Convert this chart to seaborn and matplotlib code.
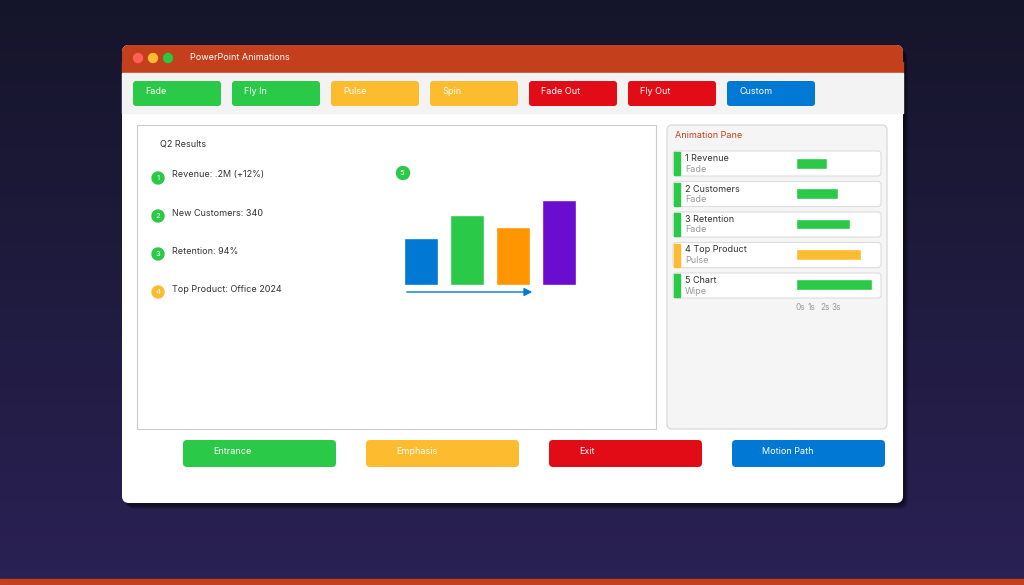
import numpy as np
import matplotlib.pyplot as plt
import seaborn as sns
from matplotlib.patches import FancyBboxPatch, Circle, Rectangle
from matplotlib.colors import LinearSegmentedColormap

sns.set_style("white")
plt.rcParams["font.family"] = ["Inter", "DejaVu Sans"]

# ---------------------------------------------------------------------------
# Data
# ---------------------------------------------------------------------------
effect_names = ["Fade", "Fly In", "Pulse", "Spin", "Fade Out", "Fly Out", "Custom"]
effect_kinds = ["entrance", "entrance", "emphasis", "emphasis", "exit", "exit", "path"]
group_names = ["Entrance", "Emphasis", "Exit", "Motion Path"]
group_kinds = ["entrance", "emphasis", "exit", "path"]
slide_items = ["Revenue: .2M (+12%)", "New Customers: 340", "Retention: 94%", "Top Product: Office 2024"]
item_kinds = ["entrance", "entrance", "entrance", "emphasis"]
chart_values = [47, 70, 58, 85]
chart_colors = ["#0078d4", "#2ac947", "#ff9500", "#6a0dce"]
pane_titles = ["1 Revenue", "2 Customers", "3 Retention", "4 Top Product", "5 Chart"]
pane_effects = ["Fade", "Fade", "Fade", "Pulse", "Wipe"]
pane_kinds = ["entrance", "entrance", "entrance", "emphasis", "entrance"]
pane_durations = [31, 42, 54, 65, 76]
time_ticks = ["0s", "1s", "2s", "3s"]

COLORS = {"entrance": "#2ac947", "emphasis": "#fdbb2f", "exit": "#e20c17", "path": "#0078d4"}

fig = plt.figure(figsize=(10.24, 5.85), dpi=100)
ax = fig.add_axes([0, 0, 1, 1])
ax.set_xlim(0, 1024)
ax.set_ylim(585, 0)
ax.axis("off")

# background gradient
grad = np.linspace(0, 1, 256)[:, None]
bg = LinearSegmentedColormap.from_list("bg", ["#15152a", "#2a2154"])
ax.imshow(grad, cmap=bg, extent=[0, 1024, 585, 0], aspect="auto", zorder=0)
ax.add_patch(Rectangle((0, 579), 1024, 6, color="#c4401c", zorder=1))


def rbox(x, y, w, h, fc, ec="none", r=4, z=2, lw=1, alpha=1):
    ax.add_patch(FancyBboxPatch((x + r, y + r), w - 2 * r, h - 2 * r,
                                boxstyle=f"round,pad={r}", fc=fc, ec=ec, lw=lw,
                                zorder=z, alpha=alpha))


# window with soft shadow
for k in range(4):
    rbox(124 + k, 48 + k, 781, 458, "#000000", r=8, z=1, alpha=0.15)
rbox(122, 45, 781, 458, "white", r=7, z=2)
rbox(122, 45, 781, 28, "#c43f1c", r=7, z=3)
ax.add_patch(Rectangle((122, 62), 781, 11, color="#c43f1c", zorder=3))
ax.add_patch(Rectangle((122, 73), 781, 40, color="#f3f3f3", zorder=3))
for cx, c in zip([138, 153, 168], ["#ff5f57", "#febc2e", "#28c840"]):
    ax.add_patch(Circle((cx, 58), 4.5, color=c, zorder=4))
ax.text(190, 58, "PowerPoint Animations", color="white", fontsize=6.5, va="center", zorder=4)

# effect toolbar
for i, (name, kind) in enumerate(zip(effect_names, effect_kinds)):
    x = 133 + i * 99
    rbox(x, 81, 88, 25, COLORS[kind], r=3, z=4)
    ax.text(x + 12, 91, name, color="white", fontsize=6.5, va="center", zorder=5)

# slide panel
ax.add_patch(Rectangle((137, 125), 519, 304, fc="white", ec="#cccccc", lw=0.8, zorder=3))
ax.text(160, 144, "Q2 Results", color="#333333", fontsize=6.5, va="center", zorder=4)
for i, (label, kind) in enumerate(zip(slide_items, item_kinds)):
    y = 176 + i * 38
    ax.add_patch(Circle((158, y + 2), 6, color=COLORS[kind], zorder=4))
    ax.text(158, y + 2.5, str(i + 1), color="white", fontsize=5.5, ha="center", va="center", zorder=5)
    ax.text(172, y - 1, label, color="#333333", fontsize=6.5, va="center", zorder=4)
ax.add_patch(Circle((403, 173), 6.5, color=COLORS["entrance"], zorder=4))
ax.text(402, 173, "5", color="white", fontsize=5.5, ha="center", va="center", zorder=5)

# mini bar chart
bax = fig.add_axes([398 / 1024, 1 - 285 / 585, 184 / 1024, 100 / 585])
sns.barplot(x=list(range(len(chart_values))), y=chart_values, hue=list(range(len(chart_values))),
            palette=chart_colors, legend=False, width=0.76, saturation=1, ax=bax)
bax.set_ylim(0, 100)
bax.axis("off")
ax.annotate("", xy=(535, 292), xytext=(404, 292), zorder=4,
            arrowprops=dict(arrowstyle="-|>", color="#0078d4", lw=1, mutation_scale=12))

# animation pane
rbox(667, 125, 220, 304, "#f5f5f5", ec="#d5d5d5", r=5, z=3, lw=0.8)
ax.text(675, 135, "Animation Pane", color="#c43f1c", fontsize=6.5, va="center", zorder=4)
for i, (t, e, kind) in enumerate(zip(pane_titles, pane_effects, pane_kinds)):
    y = 151 + i * 30.5
    rbox(673, y, 208, 25, "white", ec="#dddddd", r=3, z=4, lw=0.8)
    ax.add_patch(Rectangle((674, y + 1), 6, 23, color=COLORS[kind], zorder=5))
    ax.text(685, y + 7.5, t, color="#333333", fontsize=6.5, va="center", zorder=5)
    ax.text(685, y + 18, e, color="#999999", fontsize=6.5, va="center", zorder=5)

pax = fig.add_axes([796 / 1024, 1 - 300 / 585, 100 / 1024, 152 / 585])
pax.patch.set_alpha(0)
sns.barplot(x=pane_durations, y=pane_titles, hue=pane_titles, saturation=1,
            palette=[COLORS[k] for k in pane_kinds], legend=False, width=0.36, orient="h", ax=pax)
pax.set_xlim(0, 100)
pax.axis("off")
for i, t in enumerate(time_ticks):
    ax.text(796 + i * 12, 308, t, color="#999999", fontsize=6, va="center", zorder=4)

# bottom category buttons
for i, (name, kind) in enumerate(zip(group_names, group_kinds)):
    x = 183 + i * 183
    rbox(x, 440, 153, 27, COLORS[kind], r=4, z=4)
    ax.text(x + 30, 451, name, color="white", fontsize=6.5, va="center", zorder=5)

fig.savefig("out.png", dpi=100)
